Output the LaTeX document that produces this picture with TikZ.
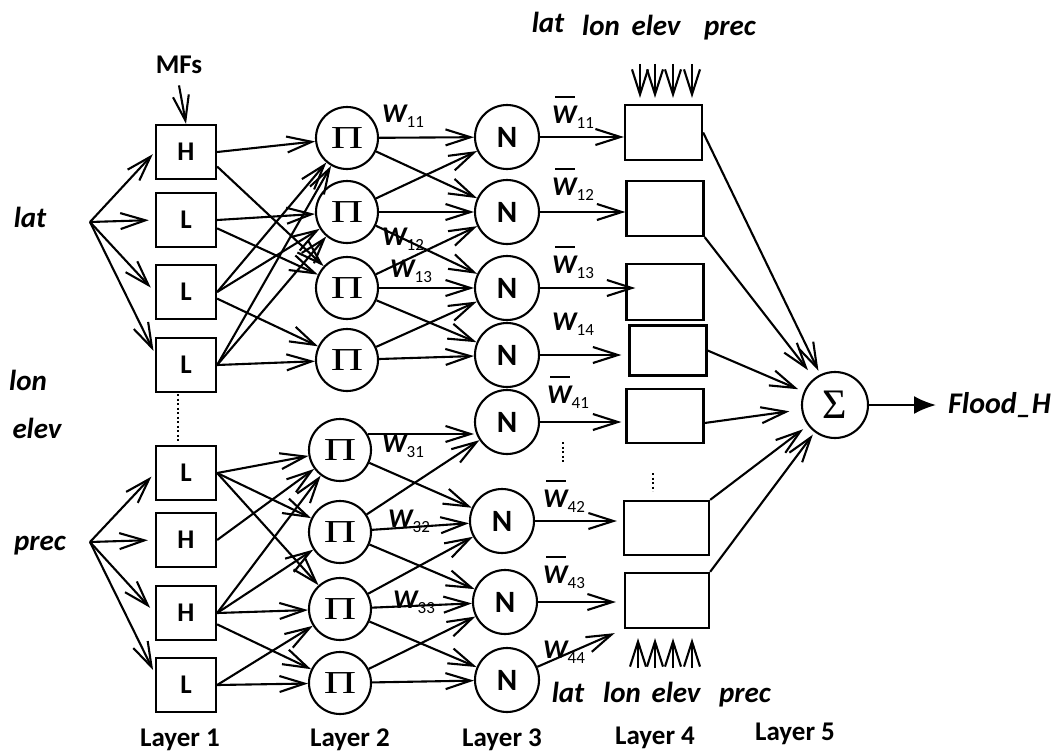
\documentclass[tikz,border=0pt]{standalone}
\usepackage{fontspec}
\usepackage{graphicx}
\setmainfont{Carlito}
\newfontfamily\grk{Liberation Serif}
\usetikzlibrary{arrows.meta}
\newcommand{\PiT}{{\grk\fontsize{32}{32}\selectfont\scalebox{1.4}[1]{Π}}}
\newcommand{\SigT}{{\grk\fontsize{42}{42}\selectfont Σ}}
\newcommand{\Wl}[1]{{\fontsize{27}{27}\selectfont\bfseries\itshape W}\raisebox{-5pt}{\fontsize{17}{17}\selectfont #1}}
\newcommand{\Wb}[1]{\makebox[0pt][l]{\hspace{3pt}\rule[25pt]{20pt}{2pt}}{\fontsize{27}{27}\selectfont\bfseries\itshape W}\raisebox{-5pt}{\fontsize{17}{17}\selectfont #1}}
\begin{document}
\begin{tikzpicture}[x=1pt,y=-1pt,
  boxa/.style={draw, line width=2.3pt, minimum width=60pt, minimum height=54pt, inner sep=0pt, font=\fontsize{27}{27}\selectfont\bfseries},
  pinode/.style={draw, circle, line width=2.1pt, minimum size=62pt, inner sep=0pt},
  nnode/.style={draw, circle, line width=2.1pt, minimum size=64pt, inner sep=0pt, font=\fontsize{31}{31}\selectfont\bfseries},
  boxd/.style={draw, line width=2.3pt, minimum width=77pt, minimum height=55pt, inner sep=0pt},
  arr/.style={line width=2.1pt, -{Straight Barb[length=25pt,width=16pt,line width=2.1pt]}},
  ilbl/.style={font=\fontsize{29}{29}\selectfont\bfseries\itshape, inner sep=0pt, anchor=base},
  lay/.style={font=\fontsize{27}{27}\selectfont\bfseries, inner sep=0pt, anchor=base},
  wl/.style={inner sep=0pt, anchor=base west},
  dotl/.style={line width=2.3pt, dash pattern=on 2pt off 2.5pt}
]
\fill[white] (0,0) rectangle (1057,755);
\useasboundingbox (0,0) rectangle (1057,755);

% Layer 1
\node[boxa] (A1) at (186,152) {H};
\node[boxa] (A2) at (186,220) {L};
\node[boxa] (A3) at (186,292) {L};
\node[boxa] (A4) at (186,365) {L};
\node[boxa] (B1) at (186,473) {L};
\node[boxa] (B2) at (186,540) {H};
\node[boxa] (B3) at (186,613) {H};
\node[boxa] (B4) at (186,685) {L};
\draw[dotl] (178,394) -- (178,442);

% Layer 2
\node[pinode] (P1) at (347,138) {\PiT};
\node[pinode] (P2) at (347,212) {\PiT};
\node[pinode] (P3) at (347,288) {\PiT};
\node[pinode] (P4) at (347,360) {\PiT};
\node[pinode] (Q1) at (340,450) {\PiT};
\node[pinode] (Q2) at (340,532) {\PiT};
\node[pinode] (Q3) at (340,609) {\PiT};
\node[pinode] (Q4) at (340,683) {\PiT};

% Layer 3
\node[nnode] (N1) at (507,137) {N};
\node[nnode] (N2) at (507,212) {N};
\node[nnode] (N3) at (507,288) {N};
\node[nnode] (N4) at (507,355) {N};
\node[nnode] (N5) at (507,422) {N};
\node[nnode] (N6) at (502,521) {N};
\node[nnode] (N7) at (505,602) {N};
\node[nnode] (N8) at (507,680) {N};
\draw[dotl] (563,442) -- (563,462);

% Layer 4
\node[boxd] (b1) at (663.5,132.5) {};
\node[boxd] (b2) at (665,208.5) {};
\node[boxd, minimum height=56pt] (b3) at (665,292) {};
\node[boxd, minimum height=50pt] (b4) at (668,350.5) {};
\node[boxd, minimum height=54pt] (b5) at (665,416) {};
\node[boxd, minimum width=85pt, minimum height=54pt] (b6) at (666.5,528) {};
\node[boxd, minimum width=84pt] (b7) at (667,600.5) {};
\draw[dotl] (653,473) -- (653,491);

% Layer 5
\node[pinode, minimum size=66pt] (S) at (835,405) {\SigT};
\node[font=\fontsize{30}{30}\selectfont\bfseries\itshape, inner sep=0pt, anchor=west] (F) at (948,405) {Flood\_H};
\draw[line width=2.1pt, -{Latex[length=22pt,width=18pt]}] (S.east) -- ([xshift=-12pt]F.west);

% input labels
\node[ilbl] (lat) at (30,227) {lat};
\node[ilbl] (lon) at (28,390) {lon};
\node[ilbl] (elev) at (37,438) {elev};
\node[ilbl] (prec) at (40,550) {prec};
\coordinate (latp) at (90,222);
\coordinate (precp) at (90,542);
\draw[arr, shorten >=3pt] (latp) -- (A1.west);
\draw[arr, shorten >=6pt] (latp) -- (A2.west);
\draw[arr, shorten >=6pt] (latp) -- (A3.west);
\draw[arr, shorten >=3pt] (latp) -- (A4.160);
\draw[arr, shorten >=5pt] (precp) -- (B1.west);
\draw[arr, shorten >=7pt] (precp) -- (B2.west);
\draw[arr, shorten >=7pt] (precp) -- (B3.west);
\draw[arr, shorten >=4pt] (precp) -- (B4.160);

% MFs
\node[lay] (mf) at (179,73) {MFs};
\draw[arr] ([yshift=-12pt]mf.south) -- (A1.north);

% Layer1 -> Layer2 (upper)
\draw[arr] (A1.east) -- (P1);
\draw[arr] (A1.-25) -- (P3);
\draw[arr] (A2.east) -- (P2);
\draw[arr] (A2.-15) -- (P3);
\draw[arr] (A3.east) -- (P1);
\draw[arr] (A3.east) -- (P2);
\draw[arr] (A3.-12) -- (P4);
\draw[arr] (A4.east) -- (P4);
\draw[arr] (A4.east) -- (P1);
\draw[arr] (A4.east) -- (P2);
% Layer1 -> Layer2 (lower)
\draw[arr] (B1.east) -- (Q1);
\draw[arr] (B1.east) -- (Q2);
\draw[arr] (B1.east) -- (Q3);
\draw[arr] (B2.east) -- (Q1);
\draw[arr] (B3.east) -- (Q1);
\draw[arr] (B3.east) -- (Q2);
\draw[arr] (B3.east) -- (Q3);
\draw[arr] (B3.-20) -- (Q4);
\draw[arr] (B4.east) -- (Q3);
\draw[arr] (B4.east) -- (Q4);

% Layer2 -> Layer3 (upper)
\draw[arr] (P1) -- (N1);
\draw[arr] (P1) -- (N2);
\draw[arr] (P2) -- (N1);
\draw[arr] (P2) -- (N2);
\draw[arr] (P2) -- (N3);
\draw[arr] (P3) -- (N2);
\draw[arr] (P3) -- (N3);
\draw[arr] (P3) -- (N4);
\draw[arr] (P4) -- (N3);
\draw[arr] (P4) -- (N4);
% Layer2 -> Layer3 (lower)
\draw[arr] (Q1.30) -- (Q1.30 -| N5.west);
\draw[arr] (Q1) -- (N6);
\draw[arr] (Q2) -- (N5);
\draw[arr] (Q2) -- (N6);
\draw[arr] (Q2) -- (N7);
\draw[arr] (Q3) -- (N6);
\draw[arr] (Q3) -- (N7);
\draw[arr] (Q3) -- (N8);
\draw[arr] (Q4) -- (N7);
\draw[arr] (Q4) -- (N8);

% Layer3 -> Layer4
\draw[arr] (N1.east) -- (N1.east -| b1.west);
\draw[arr] (N2.east) -- (N2.east -| b2.west);
\draw[arr, shorten >=-10pt] (N3.east) -- (N3.east -| b3.west);
\draw[arr, shorten >=7pt] (N4.east) -- (N4.east -| b4.west);
\draw[arr, shorten >=4pt] (N5.east) -- (N5.east -| b5.west);
\draw[arr, shorten >=6pt] (N6.east) -- (N6.east -| b6.west);
\draw[arr, shorten >=8pt] (N7.east) -- (N7.east -| b7.west);
\draw[arr, shorten >=10pt] (N8) -- (b7.south west);

% Layer4 -> Layer5
\draw[arr, shorten >=4pt] (b1.east) -- (S);
\draw[arr, shorten >=10pt] (b2.south east) -- (S);
\draw[arr, shorten >=6pt] (b4.east) -- (S);
\draw[arr, shorten >=12pt] (b5.-10) -- (S);
\draw[arr, shorten >=6pt] (b6.north east) -- (S);
\draw[arr, shorten >=3pt] (b7.north east) -- (S);

% inputs to layer 4
\foreach \dx in {-23.5,-8.5,9.5,28.5}
  \draw[arr] ([xshift=\dx pt, yshift=40pt]b1.north) -- ([xshift=\dx pt, yshift=6pt]b1.north);
\foreach \dx in {-29,-12,6,25}
  \draw[arr] ([xshift=\dx pt, yshift=-39pt]b7.south) -- ([xshift=\dx pt, yshift=-9pt]b7.south);
\node[ilbl] (tlat) at (548,32) {lat};
\node[ilbl] (tlon) at (601,35) {lon};
\node[ilbl] (telev) at (656,35) {elev};
\node[ilbl] (tprec) at (730,35) {prec};
\node[ilbl] (blat) at (568,702) {lat};
\node[ilbl] (blon) at (622,702) {lon};
\node[ilbl] (belev) at (676,702) {elev};
\node[ilbl] (bprec) at (745,702) {prec};

% weight labels
\node[wl] (w11) at (382,122) {\Wl{11}};
\node[wl] (w12) at (382,245) {\Wl{12}};
\node[wl] (w13) at (390,277) {\Wl{13}};
\node[wl] (w31) at (382,452) {\Wl{31}};
\node[wl] (w32) at (388,527) {\Wl{32}};
\node[wl] (w33) at (393,608) {\Wl{33}};
\node[wl] (v11) at (552,123) {\Wb{11}};
\node[wl] (v12) at (552,195) {\Wb{12}};
\node[wl] (v13) at (552,273) {\Wb{13}};
\node[wl] (v14) at (552,330) {\Wl{14}};
\node[wl] (v41) at (547,403) {\Wb{41}};
\node[wl] (v42) at (543,507) {\Wb{42}};
\node[wl] (v43) at (543,583) {\Wb{43}};
\node[wl] (v44) at (543,658) {\Wl{44}};

% layer labels
\node[lay] (L1) at (180,746) {Layer 1};
\node[lay] (L2) at (350,746) {Layer 2};
\node[lay] (L3) at (502,746) {Layer 3};
\node[lay] (L4) at (655,744) {Layer 4};
\node[lay] (L5) at (795,740) {Layer 5};
\end{tikzpicture}
\end{document}
